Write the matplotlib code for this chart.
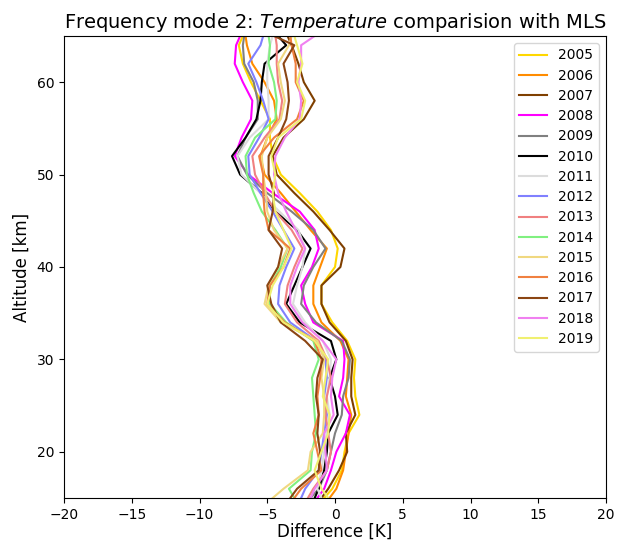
import matplotlib
matplotlib.use("Agg")
import matplotlib.pyplot as plt

ALT = [15, 16, 18, 20, 22, 24, 26, 28, 30, 32, 34, 36, 38, 40, 42, 44, 46, 48, 50, 52, 54, 56, 58, 60, 62, 64, 65]

YEARS = ["2005", "2006", "2007", "2008", "2009", "2010", "2011", "2012",
         "2013", "2014", "2015", "2016", "2017", "2018", "2019"]

COLORS = ["#FFD700", "#FF8C00", "#7F3F00", "#FF00FF", "#808080", "#000000", "#DCDCDC", "#8080FF",
          "#F08080", "#80F080", "#F0D880", "#F08040", "#8B4513", "#F080F0", "#F0F070"]

d2005 = [-0.8, -0.2, 0.5, 0.7, 1.0, 1.8, 1.5, 1.4, 1.5, 0.9, -0.2, -1.0, -1.0, 0.0, 0.2, -0.3, -1.3, -2.6, -4.0, -4.6, -4.8, -4.8, -5.5, -6.2, -6.8, -7.1, -6.8]
d2006 = [-0.4, 0.1, 0.6, 0.8, 1.0, 1.2, 0.8, 0.9, 1.0, 0.4, -1.0, -1.6, -1.6, -1.1, -0.6, -1.8, -2.9, -4.0, -5.2, -5.5, -5.0, -4.3, -4.5, -5.2, -6.1, -6.5, -6.6]
d2007 = [-1.0, -0.5, 0.3, 0.9, 0.8, 1.5, 1.2, 1.2, 1.3, 0.8, -0.4, -1.0, -1.0, 0.4, 0.7, -0.4, -1.6, -3.0, -4.3, -4.6, -3.8, -2.3, -1.5, -2.3, -2.7, -3.2, -3.5]
d2008 = [-1.3, -0.8, -0.3, 0.1, 0.8, 1.1, 0.3, 0.6, 0.7, 0.6, -1.6, -2.2, -2.5, -1.7, -1.2, -1.5, -2.6, -4.6, -6.4, -7.4, -6.9, -6.2, -6.1, -6.8, -7.4, -7.3, -7.0]
d2009 = [-1.8, -1.2, -0.6, -0.3, 0.0, 0.5, 0.6, 1.0, 1.1, 0.5, -1.4, -2.5, -2.3, -1.6, -0.7, -1.6, -3.2, -5.0, -6.5, -7.2, -6.6, -5.7, -5.7, -6.0, -6.7, -6.8, -6.7]
d2010 = [-1.5, -1.2, -0.8, -0.6, -0.5, 0.2, 0.0, -0.4, 0.1, -0.3, -2.6, -3.6, -3.0, -2.4, -1.8, -2.8, -4.4, -5.4, -7.0, -7.6, -6.6, -5.8, -5.5, -5.4, -5.2, -3.6, -4.2]
d2011 = [-1.0, -1.3, -1.0, -0.8, -0.6, -0.4, -0.6, -0.4, -0.3, -0.9, -2.2, -3.1, -2.8, -2.4, -2.2, -2.7, -4.1, -5.5, -6.9, -7.2, -6.3, -4.9, -4.9, -5.0, -5.0, -4.8, -4.6]
d2012 = [-2.5, -2.2, -1.2, -1.0, -0.8, -0.6, -0.8, -0.6, -0.7, -1.4, -3.3, -4.2, -4.1, -3.6, -3.0, -3.8, -4.6, -5.5, -6.3, -6.4, -5.6, -4.9, -5.3, -5.8, -6.4, -5.5, -5.3]
d2013 = [-2.0, -1.6, -0.6, -0.3, -0.5, -0.7, -0.6, -0.3, -0.6, -1.2, -2.8, -3.7, -3.5, -3.0, -2.4, -3.2, -4.4, -5.2, -5.9, -6.1, -5.2, -4.1, -3.9, -4.2, -4.3, -4.3, -4.4]
d2014 = [-3.0, -3.4, -1.8, -1.7, -1.4, -1.5, -1.6, -1.7, -1.2, -1.6, -3.6, -4.8, -4.8, -4.0, -3.5, -4.4, -5.4, -6.0, -6.5, -6.6, -5.9, -4.4, -4.3, -4.5, -4.9, -4.8, -4.9]
d2015 = [-4.6, -3.8, -2.0, -1.8, -0.9, -0.8, -0.8, -1.0, -0.8, -1.3, -4.0, -5.2, -4.9, -4.2, -3.5, -4.5, -5.0, -5.1, -5.3, -5.4, -5.0, -4.0, -3.7, -4.0, -4.2, -3.4, -3.2]
d2016 = [-3.0, -2.5, -1.0, -1.3, -1.6, -1.2, -1.3, -1.1, -1.0, -1.5, -3.7, -5.0, -4.8, -3.8, -3.3, -4.9, -5.2, -5.3, -5.3, -5.6, -4.5, -2.8, -2.3, -2.9, -2.9, -3.2, -3.3]
d2017 = [-3.3, -2.8, -1.2, -1.1, -1.3, -1.2, -1.4, -1.3, -0.9, -2.2, -4.0, -4.7, -5.0, -4.2, -3.9, -4.9, -4.6, -4.5, -4.9, -4.9, -4.2, -3.6, -3.4, -3.5, -3.8, -3.0, -4.5]
d2018 = [-1.8, -1.5, -0.6, -0.7, -0.8, -0.1, -0.3, -0.2, 0.1, -0.9, -2.4, -3.3, -3.3, -2.8, -2.2, -2.9, -3.6, -4.2, -4.5, -4.4, -3.7, -2.6, -2.5, -2.7, -2.5, -2.5, -1.5]
d2019 = [-0.5, -1.0, -1.5, -1.0, -0.5, -0.4, -0.9, -0.7, -0.5, -1.5, -3.8, -5.0, -4.6, -3.8, -3.2, -3.8, -4.4, -4.6, -4.4, -4.7, -4.2, -2.5, -2.2, -2.8, -2.4, -2.8, -3.0]

SERIES = [d2005, d2006, d2007, d2008, d2009, d2010, d2011, d2012,
          d2013, d2014, d2015, d2016, d2017, d2018, d2019]

fig = plt.figure(figsize=(6.18, 5.43), dpi=100)
ax = fig.add_axes([64 / 618, 1 - 498 / 543, (606 - 64) / 618, (498 - 36) / 543])

for yr, col, vals in zip(YEARS, COLORS, SERIES):
    ax.plot(vals, ALT, color=col, lw=1.5, label=yr)

ax.set_xlim(-20, 20)
ax.set_ylim(15, 65)
ax.set_xticks([-20, -15, -10, -5, 0, 5, 10, 15, 20])
ax.set_yticks([20, 30, 40, 50, 60])
ax.set_xlabel("Difference [K]", fontsize=12, labelpad=1)
ax.set_ylabel("Altitude [km]", fontsize=12)
ax.set_title(r"Frequency mode 2: $\it{Temperature}$ comparision with MLS", fontsize=14)
ax.legend(loc="upper right", fontsize=10, labelspacing=0.45)

fig.savefig("out.png", dpi=100)
